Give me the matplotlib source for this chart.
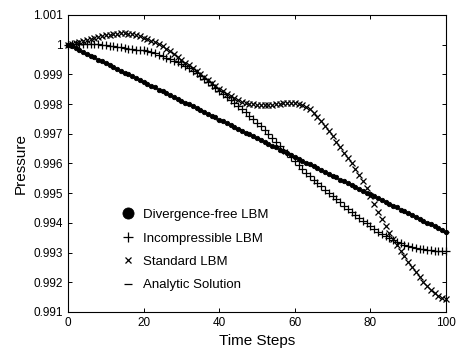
import matplotlib
matplotlib.use("Agg")
import matplotlib.pyplot as plt

plt.rcParams['font.family'] = ['Liberation Sans', 'DejaVu Sans']

# time steps 0..100
steps = list(range(101))

divfree_p = [
    1.00000, 0.99995, 0.99989, 0.99982, 0.99976, 0.99969, 0.99963, 0.99957, 0.99950, 0.99944,
    0.99938, 0.99931, 0.99925, 0.99919, 0.99912, 0.99906, 0.99900, 0.99894, 0.99887, 0.99881,
    0.99875, 0.99868, 0.99862, 0.99856, 0.99849, 0.99843, 0.99837, 0.99830, 0.99824, 0.99818,
    0.99811, 0.99805, 0.99799, 0.99792, 0.99786, 0.99780, 0.99774, 0.99767, 0.99761, 0.99755,
    0.99748, 0.99742, 0.99736, 0.99729, 0.99723, 0.99717, 0.99710, 0.99704, 0.99698, 0.99691,
    0.99685, 0.99679, 0.99673, 0.99666, 0.99660, 0.99654, 0.99647, 0.99641, 0.99635, 0.99628,
    0.99622, 0.99616, 0.99609, 0.99603, 0.99597, 0.99591, 0.99584, 0.99578, 0.99572, 0.99565,
    0.99559, 0.99553, 0.99546, 0.99540, 0.99534, 0.99527, 0.99521, 0.99515, 0.99508, 0.99502,
    0.99496, 0.99490, 0.99483, 0.99477, 0.99471, 0.99464, 0.99458, 0.99452, 0.99445, 0.99439,
    0.99433, 0.99426, 0.99420, 0.99414, 0.99407, 0.99401, 0.99395, 0.99389, 0.99382, 0.99376,
    0.99370,
]

incomp_p = [
    1.00000, 1.00001, 1.00002, 1.00003, 1.00003, 1.00003, 1.00003, 1.00002, 1.00001, 1.00000,
    0.99999, 0.99997, 0.99995, 0.99993, 0.99991, 0.99989, 0.99987, 0.99985, 0.99983, 0.99982,
    0.99981, 0.99978, 0.99975, 0.99971, 0.99966, 0.99961, 0.99956, 0.99951, 0.99946, 0.99941,
    0.99935, 0.99928, 0.99921, 0.99912, 0.99903, 0.99894, 0.99884, 0.99873, 0.99863, 0.99853,
    0.99843, 0.99833, 0.99823, 0.99813, 0.99803, 0.99793, 0.99783, 0.99772, 0.99760, 0.99749,
    0.99737, 0.99725, 0.99712, 0.99699, 0.99686, 0.99673, 0.99660, 0.99647, 0.99634, 0.99621,
    0.99608, 0.99595, 0.99582, 0.99569, 0.99557, 0.99545, 0.99534, 0.99523, 0.99512, 0.99501,
    0.99490, 0.99479, 0.99469, 0.99458, 0.99448, 0.99438, 0.99428, 0.99418, 0.99408, 0.99398,
    0.99388, 0.99379, 0.99370, 0.99362, 0.99355, 0.99348, 0.99342, 0.99336, 0.99331, 0.99326,
    0.99322, 0.99318, 0.99315, 0.99313, 0.99311, 0.99309, 0.99308, 0.99307, 0.99306, 0.99305,
    0.99305,
]

standard_p = [
    1.00000, 1.00002, 1.00005, 1.00008, 1.00012, 1.00015, 1.00019, 1.00022, 1.00026, 1.00029,
    1.00032, 1.00034, 1.00036, 1.00037, 1.00038, 1.00038, 1.00037, 1.00035, 1.00032, 1.00028,
    1.00024, 1.00019, 1.00014, 1.00008, 1.00002, 0.99995, 0.99987, 0.99978, 0.99969, 0.99960,
    0.99950, 0.99940, 0.99930, 0.99920, 0.99910, 0.99900, 0.99890, 0.99880, 0.99870, 0.99861,
    0.99852, 0.99843, 0.99835, 0.99827, 0.99820, 0.99813, 0.99808, 0.99804, 0.99801, 0.99799,
    0.99798, 0.99797, 0.99797, 0.99797, 0.99798, 0.99799, 0.99800, 0.99802, 0.99803, 0.99803,
    0.99802, 0.99800, 0.99797, 0.99791, 0.99782, 0.99771, 0.99758, 0.99743, 0.99727, 0.99710,
    0.99692, 0.99673, 0.99654, 0.99634, 0.99618, 0.99600, 0.99581, 0.99561, 0.99540, 0.99518,
    0.99492, 0.99465, 0.99438, 0.99412, 0.99388, 0.99366, 0.99345, 0.99326, 0.99307, 0.99288,
    0.99270, 0.99252, 0.99235, 0.99218, 0.99202, 0.99187, 0.99174, 0.99163, 0.99154, 0.99148,
    0.99144,
]

analytic_steps = [0, 5, 10, 15, 20, 25, 30, 35, 40, 45, 50, 55, 60, 65, 70, 75, 80, 85, 90, 95, 100]
analytic_p = [1.00000, 0.99969, 0.99938, 0.99906, 0.99875, 0.99843, 0.99811, 0.99780, 0.99748,
              0.99717, 0.99685, 0.99654, 0.99622, 0.99591, 0.99559, 0.99527, 0.99496, 0.99464,
              0.99433, 0.99401, 0.99370]

labels = ['Divergence-free LBM', 'Incompressible LBM', 'Standard LBM', 'Analytic Solution']

xticks = [0, 20, 40, 60, 80, 100]
yticks = [0.991, 0.992, 0.993, 0.994, 0.995, 0.996, 0.997, 0.998, 0.999, 1.0, 1.001]
ytick_labels = ['0.991', '0.992', '0.993', '0.994', '0.995', '0.996', '0.997', '0.998',
                '0.999', '1', '1.001']

fig = plt.figure(figsize=(4.58, 3.56), dpi=100)
ax = fig.add_axes([0.1485, 0.1236, 0.8253, 0.8343])

ax.plot(steps, divfree_p, 'o', color='black', ms=3.2, mew=0.6, clip_on=False, label=labels[0])
ax.plot(steps, incomp_p, '+', color='black', ms=5.5, mew=0.9, clip_on=False, label=labels[1])
ax.plot(steps, standard_p, 'x', color='black', ms=5, mew=0.9, clip_on=False, label=labels[2])
ax.plot(analytic_steps, analytic_p, '_', color='black', ms=5, mew=0.9, clip_on=False, label=labels[3])

ax.set_xlim(0, 100)
ax.set_ylim(0.991, 1.001)
ax.set_xticks(xticks)
ax.set_xticklabels([str(v) for v in xticks])
ax.set_yticks(yticks)
ax.set_yticklabels(ytick_labels)
ax.tick_params(direction='in', top=True, right=True, length=3, width=0.7, labelsize=8.5, pad=3.5)
for sp in ax.spines.values():
    sp.set_linewidth(0.8)

ax.set_xlabel('Time Steps', fontsize=11, labelpad=4)
ax.set_ylabel('Pressure', fontsize=11, labelpad=4)

leg = ax.legend(loc='upper left', bbox_to_anchor=(0.128, 0.365), frameon=False, fontsize=9.5,
                handlelength=1.0, handletextpad=0.6, labelspacing=0.85, borderaxespad=0)
sizes = [8, 7, 5, 6]
for h, s in zip(leg.legend_handles, sizes):
    h.set_markersize(s)

fig.savefig('out.png', dpi=100)
